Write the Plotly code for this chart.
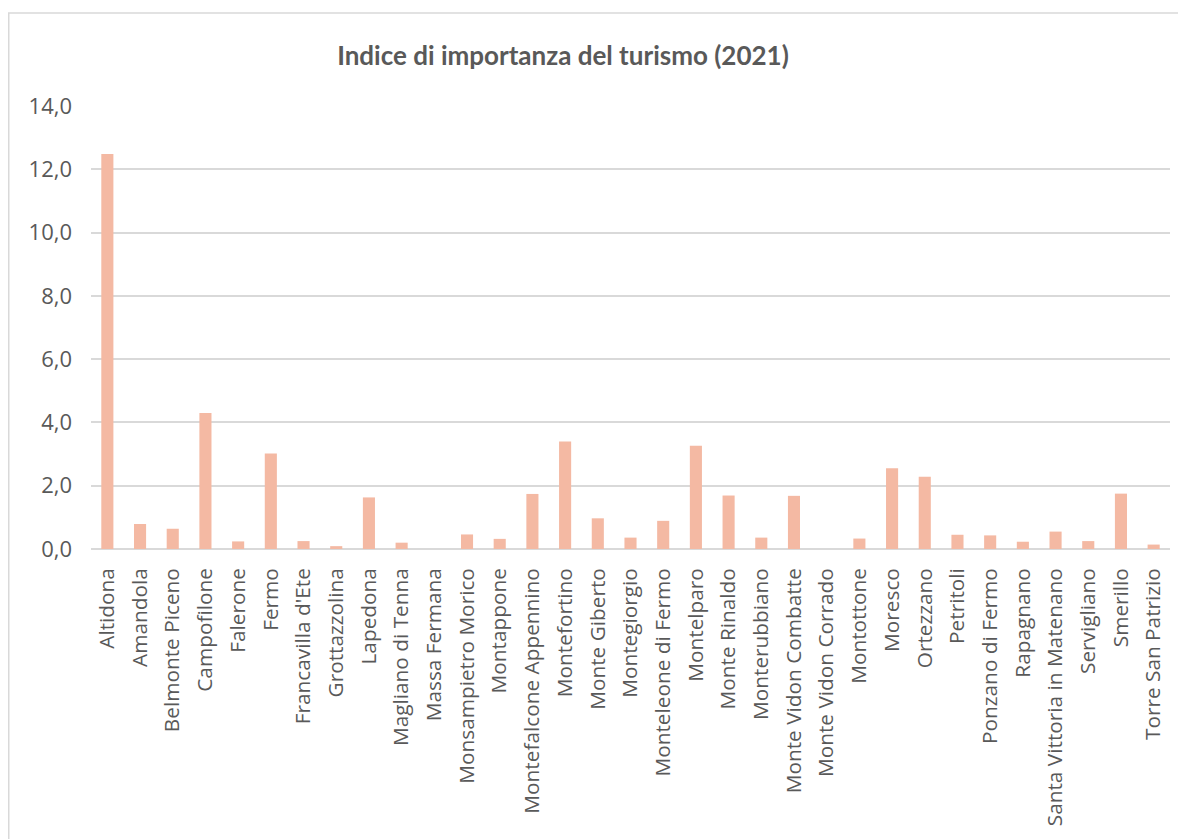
import plotly.graph_objects as go

categories = ["Altidona", "Amandola", "Belmonte Piceno", "Campofilone", "Falerone", "Fermo",
              "Francavilla d'Ete", "Grottazzolina", "Lapedona", "Magliano di Tenna", "Massa Fermana",
              "Monsampietro Morico", "Montappone", "Montefalcone Appennino", "Montefortino",
              "Monte Giberto", "Montegiorgio", "Monteleone di Fermo", "Montelparo", "Monte Rinaldo",
              "Monterubbiano", "Monte Vidon Combatte", "Monte Vidon Corrado", "Montottone", "Moresco",
              "Ortezzano", "Petritoli", "Ponzano di Fermo", "Rapagnano", "Santa Vittoria in Matenano",
              "Servigliano", "Smerillo", "Torre San Patrizio"]
values = [12.48, 0.79, 0.64, 4.30, 0.24, 3.02,
          0.25, 0.09, 1.63, 0.20, 0.0,
          0.46, 0.32, 1.74, 3.40,
          0.97, 0.36, 0.89, 3.26, 1.69,
          0.36, 1.68, 0.0, 0.33, 2.55,
          2.28, 0.45, 0.43, 0.23, 0.55,
          0.25, 1.75, 0.14]
y_ticks = [0, 2, 4, 6, 8, 10, 12, 14]
y_tick_labels = ["0,0", "2,0", "4,0", "6,0", "8,0", "10,0", "12,0", "14,0"]
title = "Indice di importanza del turismo (2021)"

# page has an 8px body margin, so the figure is sized/positioned accordingly
W, H = 1178, 831
L, R, T, B = 83, 16, 98, 289.5
pw, ph = W - L - R, H - T - B

fig = go.Figure(go.Bar(
    x=categories, y=values,
    marker=dict(color="#F4B9A3", line=dict(width=0)),
    hoverinfo="x+y",
))

def px_x(p):
    return (p - L) / pw

def px_y(p):
    return (H - B - p) / ph

fig.update_layout(
    width=W, height=H,
    margin=dict(l=L, r=R, t=T, b=B, autoexpand=False),
    paper_bgcolor="white", plot_bgcolor="white",
    bargap=0.63,
    showlegend=False,
    font=dict(family="Open Sans", color="#595959", size=18),
    title=dict(text=title, x=px_x(555), xref="paper", xanchor="center",
               y=1 - 48 / H, yanchor="middle",
               font=dict(family="Lato", size=26, color="#595959", weight="bold")),
    xaxis=dict(
        type="category", tickangle=-90, showgrid=False, showline=False,
        zeroline=False, ticks="", ticklabelstandoff=14,
        tickfont=dict(family="Open Sans", size=20.8, color="#595959"),
    ),
    yaxis=dict(
        range=[0, 14], tickvals=y_ticks, ticktext=y_tick_labels,
        showgrid=True, gridcolor="#D9D9D9", gridwidth=1.5,
        zeroline=True, zerolinecolor="#D9D9D9", zerolinewidth=1.5,
        showline=False, ticks="", ticklabelstandoff=18,
        tickfont=dict(family="Open Sans", size=22, color="#595959"),
    ),
    shapes=[dict(type="rect", xref="paper", yref="paper",
                 x0=px_x(0.75), x1=px_x(1300), y0=px_y(900), y1=px_y(5),
                 line=dict(color="#D9D9D9", width=1.5), fillcolor="rgba(0,0,0,0)",
                 layer="below")],
)

fig.write_html("out.html")
